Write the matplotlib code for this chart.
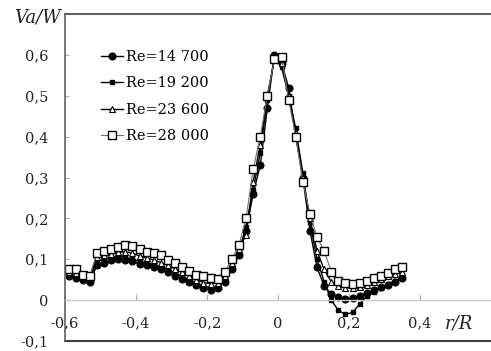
"""Axial velocity profiles Va/W vs r/R for several Reynolds numbers."""

import matplotlib

matplotlib.use("Agg")
import matplotlib.pyplot as plt
from matplotlib.ticker import FuncFormatter

plt.rcParams["font.family"] = ["DejaVu Serif"]

# radial positions r/R (shared by all series)
r_R = [
    -0.59, -0.57, -0.55, -0.53, -0.51, -0.49, -0.47, -0.45, -0.43, -0.41,
    -0.39, -0.37, -0.35, -0.33, -0.31, -0.29, -0.27, -0.25, -0.23, -0.21,
    -0.19, -0.17, -0.15, -0.13, -0.11, -0.09, -0.07, -0.05, -0.03, -0.01,
    0.01, 0.03, 0.05, 0.07, 0.09, 0.11, 0.13, 0.15, 0.17, 0.19,
    0.21, 0.23, 0.25, 0.27, 0.29, 0.31, 0.33, 0.35,
]

va_14700 = [
    0.058, 0.055, 0.050, 0.045, 0.085, 0.092, 0.098, 0.100, 0.098, 0.095,
    0.088, 0.085, 0.080, 0.075, 0.068, 0.060, 0.052, 0.045, 0.038, 0.030,
    0.025, 0.030, 0.045, 0.075, 0.110, 0.170, 0.260, 0.330, 0.470, 0.600,
    0.580, 0.520, 0.400, 0.300, 0.170, 0.080, 0.035, 0.015, 0.008, 0.003,
    0.004, 0.010, 0.017, 0.024, 0.031, 0.038, 0.045, 0.053,
]

va_19200 = [
    0.062, 0.060, 0.055, 0.050, 0.095, 0.100, 0.105, 0.108, 0.105, 0.100,
    0.095, 0.090, 0.087, 0.082, 0.075, 0.067, 0.058, 0.050, 0.042, 0.035,
    0.030, 0.034, 0.052, 0.085, 0.120, 0.180, 0.270, 0.360, 0.490, 0.595,
    0.570, 0.500, 0.420, 0.310, 0.190, 0.100, 0.045, 0.000, -0.025, -0.035,
    -0.030, -0.010, 0.010, 0.020, 0.030, 0.040, 0.048, 0.055,
]

va_23600 = [
    0.068, 0.066, 0.058, 0.055, 0.105, 0.110, 0.113, 0.117, 0.118, 0.115,
    0.108, 0.103, 0.098, 0.092, 0.085, 0.077, 0.068, 0.060, 0.050, 0.043,
    0.040, 0.043, 0.060, 0.090, 0.125, 0.160, 0.290, 0.380, 0.500, 0.590,
    0.580, 0.500, 0.410, 0.300, 0.200, 0.120, 0.075, 0.045, 0.035, 0.030,
    0.030, 0.033, 0.038, 0.045, 0.052, 0.058, 0.065, 0.070,
]

va_28000 = [
    0.075, 0.075, 0.062, 0.060, 0.115, 0.120, 0.125, 0.130, 0.135, 0.133,
    0.125, 0.118, 0.115, 0.110, 0.098, 0.092, 0.080, 0.072, 0.062, 0.058,
    0.054, 0.052, 0.070, 0.100, 0.135, 0.200, 0.320, 0.400, 0.500, 0.590,
    0.595, 0.490, 0.400, 0.290, 0.210, 0.155, 0.120, 0.070, 0.048, 0.043,
    0.040, 0.042, 0.047, 0.054, 0.060, 0.067, 0.077, 0.080,
]

labels = ["Re=14 700", "Re=19 200", "Re=23 600", "Re=28 000"]
x_ticks = [-0.6, -0.4, -0.2, 0.0, 0.2, 0.4]
y_ticks = [-0.1, 0.0, 0.1, 0.2, 0.3, 0.4, 0.5, 0.6]


def comma_fmt(v, _pos):
    if abs(v) < 1e-9:
        return "0"
    return f"{v:.1f}".replace(".", ",")


fig = plt.figure(figsize=(4.91, 3.51), dpi=100)
ax = fig.add_axes([65 / 491, 1 - 341 / 351, 1 - 65 / 491, (341 - 14) / 351])

ax.plot(r_R, va_14700, color="black", lw=1.0, marker="o", ms=4.8,
        mfc="black", mec="black", label=labels[0])
ax.plot(r_R, va_19200, color="black", lw=1.0, marker="s", ms=3.2,
        mfc="black", mec="black", label=labels[1])
ax.plot(r_R, va_23600, color="black", lw=1.0, marker="^", ms=4.5,
        mfc="white", mec="black", mew=0.8, label=labels[2])
ax.plot(r_R, va_28000, color="#707070", lw=0.8, marker="s", ms=5.5,
        mfc="white", mec="black", mew=1.0, label=labels[3])

ax.set_xlim(-0.6, 0.6)
ax.set_ylim(-0.1, 0.7)
ax.set_xticks(x_ticks)
ax.set_yticks(y_ticks)
ax.xaxis.set_major_formatter(FuncFormatter(comma_fmt))
ax.yaxis.set_major_formatter(FuncFormatter(comma_fmt))

ax.spines["bottom"].set_position(("data", 0))
ax.spines["bottom"].set_color("#c8c8c8")
ax.spines["bottom"].set_linewidth(1.0)
ax.spines["right"].set_visible(False)
ax.spines["top"].set_color("#606060")
ax.spines["top"].set_linewidth(1.5)
ax.spines["left"].set_color("#606060")
ax.spines["left"].set_linewidth(1.2)
# outer frame line at the bottom of the plot area
ax.plot([0, 1], [0, 0], transform=ax.transAxes, color="#404040", lw=1.5,
        clip_on=False)

ax.tick_params(axis="x", direction="in", length=4, color="#b0b0b0",
               pad=12, labelsize=10.5, labelcolor="#222222")
ax.tick_params(axis="y", direction="in", length=3, color="#b0b0b0",
               pad=12, labelsize=10.5, labelcolor="#222222")

ax.text(-0.01, 0.988, "Va/W", transform=ax.transAxes, ha="right", va="center",
        fontsize=13, style="italic", color="#222222")
ax.text(0.958, 0.055, "r/R", transform=ax.transAxes, ha="right", va="center",
        fontsize=13, style="italic", color="#222222")

ax.legend(loc="upper left", bbox_to_anchor=(0.085, 0.89), frameon=False,
          fontsize=10.5, handlelength=1.5, handletextpad=0.2,
          labelspacing=0.85, borderpad=0, borderaxespad=0)

fig.savefig("out.png", dpi=100)
